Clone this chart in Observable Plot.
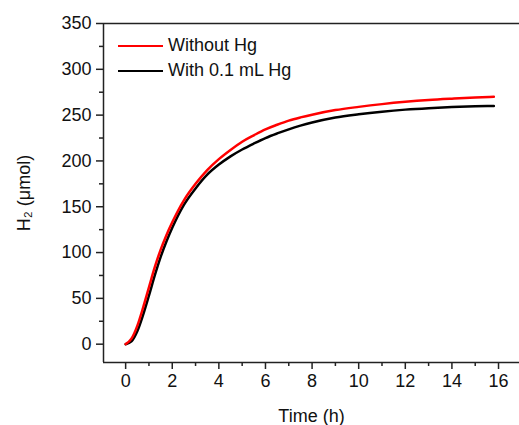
<!DOCTYPE html>
<html>
<head>
<meta charset="utf-8">
<script src="https://cdn.jsdelivr.net/npm/d3@7"></script>
<script src="https://cdn.jsdelivr.net/npm/@observablehq/plot@0.6"></script>
<style>
  html, body { margin: 0; padding: 0; background: #fff; }
  #wrap { position: relative; width: 519px; height: 425px; font-family: "Liberation Sans", Arial, sans-serif; }
  .leg { position: absolute; left: 118px; display: flex; align-items: center; font-size: 18px; color: #111; white-space: nowrap; }
  .leg span.sw { display: inline-block; width: 45px; height: 0; border-top: 2.5px solid; margin-right: 5px; }
</style>
</head>
<body>
<div id="wrap"></div>
<script>
// Time (h)
const timeH = [0, 0.25, 0.5, 0.75, 1, 1.25, 1.5, 1.75, 2, 2.5, 3, 3.5, 4, 4.5, 5, 5.5, 6, 6.5, 7, 7.5, 8, 9, 10, 11, 12, 13, 14, 15, 15.8];
// H2 (µmol), without Hg
const withoutHg = [0, 6, 20, 40, 62, 84, 103, 119, 133, 157, 175, 190, 202, 212, 221, 228, 234.5, 239.5, 244, 247.5, 250.5, 255.5, 259, 262, 264.5, 266.5, 268, 269.3, 270];
// H2 (µmol), with 0.1 mL Hg
const withHg = [0, 3, 14, 32, 53, 75, 95, 112, 127, 152, 170, 185, 196, 205, 212.5, 219, 225, 230, 234.5, 238.5, 242, 247.5, 251, 253.8, 256, 257.6, 258.8, 259.6, 260];
const seriesNames = ["Without Hg", "With 0.1 mL Hg"];
const seriesColors = ["#ff0000", "#000000"];
const xTicks = [0, 2, 4, 6, 8, 10, 12, 14, 16];
const xMinor = [1, 3, 5, 7, 9, 11, 13, 15];
const yTicks = [0, 50, 100, 150, 200, 250, 300, 350];
const yMinor = [25, 75, 125, 175, 225, 275, 325];
const xDomain = [-0.95, 16.9];
const yDomain = [-20, 350];

const rows = [];
timeH.forEach((t, i) => {
  rows.push({t, v: withoutHg[i], s: seriesNames[0]});
  rows.push({t, v: withHg[i], s: seriesNames[1]});
});

const axisColor = "#222";
const chart = Plot.plot({
  width: 519,
  height: 425,
  marginLeft: 103,
  marginRight: 0,
  marginTop: 23,
  marginBottom: 63,
  style: {fontFamily: "'Liberation Sans', Arial, sans-serif", fontSize: "18px", color: "#111", background: "#fff"},
  x: {domain: xDomain},
  y: {domain: yDomain},
  color: {domain: seriesNames, range: seriesColors},
  marks: [
    Plot.ruleY([yDomain[1]], {stroke: axisColor, strokeWidth: 1.5}),
    Plot.ruleY([yDomain[0]], {stroke: axisColor, strokeWidth: 1.5}),
    Plot.ruleX([xDomain[0]], {stroke: axisColor, strokeWidth: 1.5}),
    Plot.axisY({ticks: yTicks, tickSize: 7, tickPadding: 5, strokeWidth: 1.5, stroke: axisColor, label: "H₂ (μmol)", labelAnchor: "center", labelArrow: "none", labelOffset: 86, fontSize: 18}),
    Plot.axisY({ticks: yMinor, tickSize: 4, text: null, label: null, strokeWidth: 1.5, stroke: axisColor}),
    Plot.axisX({ticks: xTicks, tickSize: 7, tickPadding: 5, strokeWidth: 1.5, stroke: axisColor, label: "Time (h)", labelAnchor: "center", labelArrow: "none", labelOffset: 59, fontSize: 18}),
    Plot.axisX({ticks: xMinor, tickSize: 4, text: null, label: null, strokeWidth: 1.5, stroke: axisColor}),
    Plot.line(rows.filter(d => d.s === seriesNames[1]), {x: "t", y: "v", stroke: "s", strokeWidth: 2.5, curve: "monotone-x"}),
    Plot.line(rows.filter(d => d.s === seriesNames[0]), {x: "t", y: "v", stroke: "s", strokeWidth: 2.5, curve: "monotone-x"})
  ]
});
const wrap = document.getElementById("wrap");
wrap.appendChild(chart);
const legTops = [35, 60];
seriesNames.forEach((n, i) => {
  const d = document.createElement("div");
  d.className = "leg";
  d.style.top = legTops[i] + "px";
  const sw = document.createElement("span");
  sw.className = "sw";
  sw.style.borderTopColor = seriesColors[i];
  d.appendChild(sw);
  d.appendChild(document.createTextNode(n));
  wrap.appendChild(d);
});
</script>
</body>
</html>
